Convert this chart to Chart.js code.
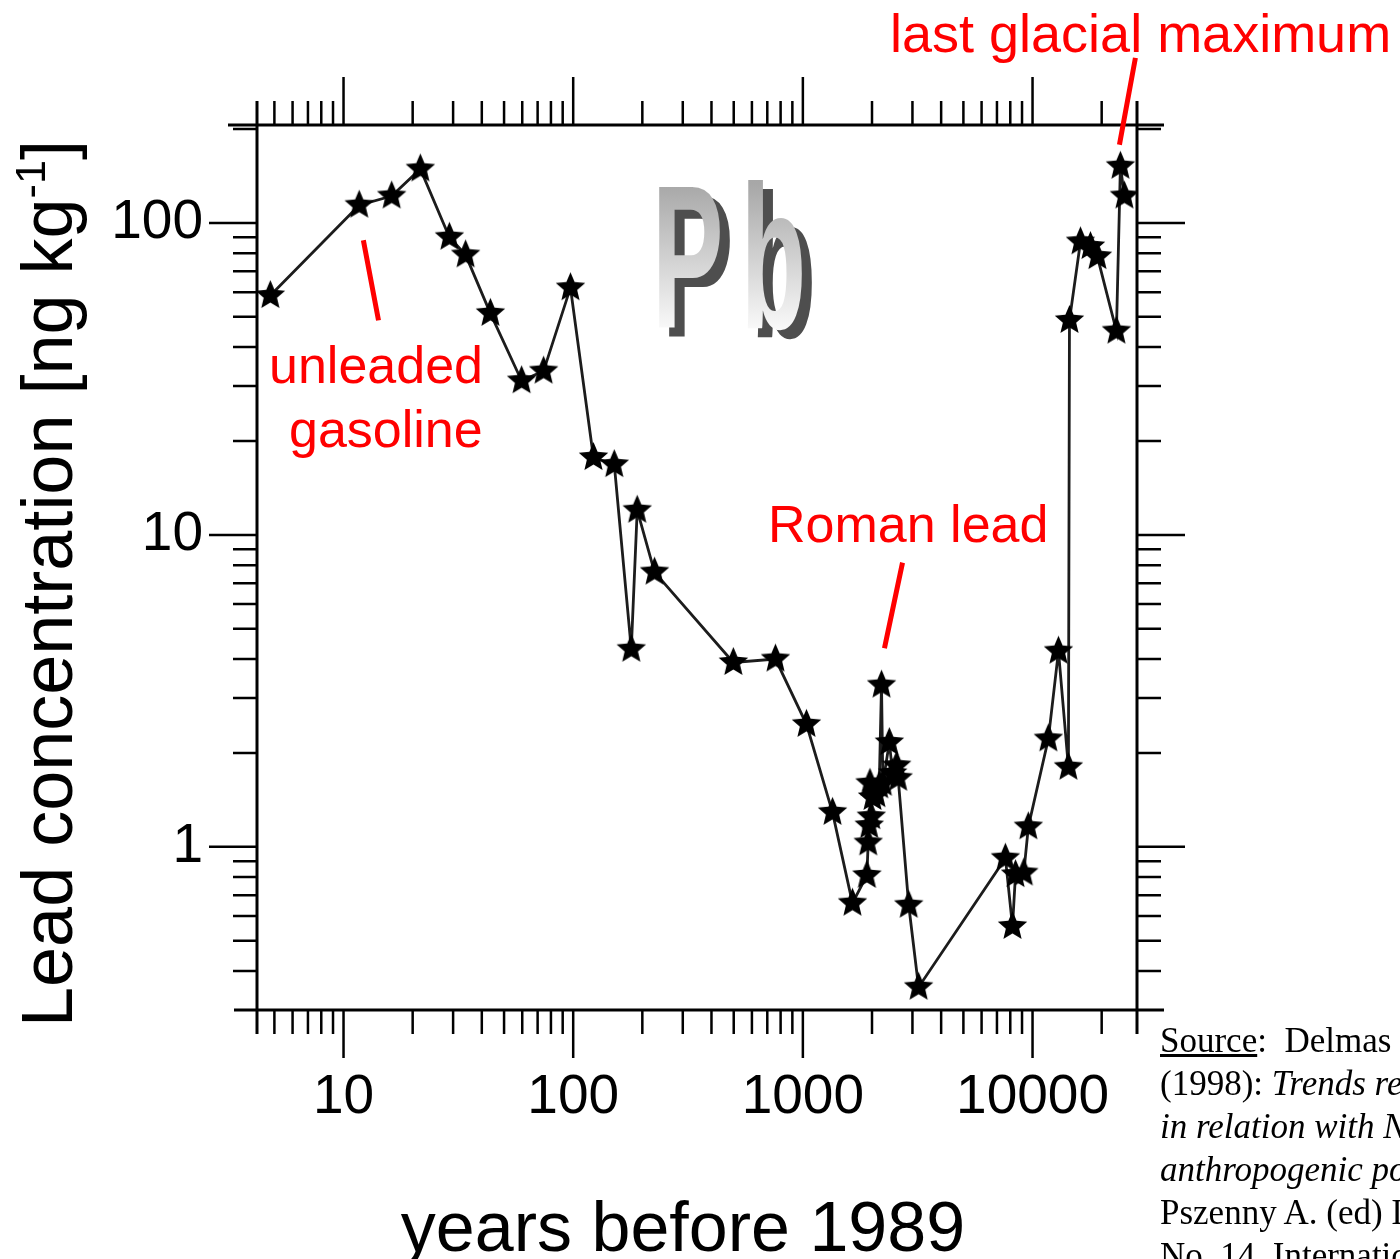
<!DOCTYPE html>
<html>
<head>
<meta charset="utf-8">
<title>Pb - lead concentration</title>
<script src="https://cdn.jsdelivr.net/npm/chart.js@4.4.1/dist/chart.umd.min.js"></script>
<style>
  html, body { margin: 0; padding: 0; background: #fff; }
  #wrap { position: relative; width: 1400px; height: 1259px; overflow: hidden;
          font-family: "Liberation Sans", Arial, sans-serif; color: #000; }
  #chart { position: absolute; left: 0; top: 0; }
  .note { position: absolute; color: #ff0000; line-height: 1; white-space: nowrap; }
  #ytitle { position: absolute; left: 11px; top: 1027px; font-size: 72px; line-height: 1;
            white-space: nowrap; transform-origin: 0 0; transform: rotate(-90deg); }
  #ytitle sup { font-size: 0.6em; line-height: 0; vertical-align: 0.62em; }
  #xtitle { position: absolute; left: 0; width: 1366px; top: 1192px; font-size: 70px;
            line-height: 1; text-align: center; white-space: nowrap; }
  #pb { position: absolute; left: 652px; top: 155px; font-weight: bold; font-size: 204px;
        line-height: 1; letter-spacing: 33px; white-space: nowrap;
        transform-origin: 0 0; transform: scaleX(0.525); }
  #pb span { position: absolute; left: 0; top: 0; }
  #pb .shadow { left: 19px; top: 9px; color: #4e4e4e; }
  #pb .face { background: linear-gradient(180deg, #a2a2a2 0px, #a8a8a8 30px, #ffffff 185px);
              -webkit-background-clip: text; background-clip: text; color: transparent; }
  #source { position: absolute; left: 1160px; top: 1019px; width: 600px;
            font-family: "Liberation Serif", "Times New Roman", serif; font-size: 35px;
            line-height: 43px; white-space: nowrap; }
</style>
</head>
<body>
<div id="wrap">
  <canvas id="chart" width="1400" height="1259"></canvas>

  <div id="pb"><span class="shadow">Pb</span><span class="face">Pb</span></div>

  <div class="note" style="left:890px; top:6px; font-size:54px;">last glacial maximum</div>
  <div class="note" style="left:269px; top:339px; font-size:52px;">unleaded</div>
  <div class="note" style="left:289px; top:403px; font-size:52px;">gasoline</div>
  <div class="note" style="left:768px; top:498px; font-size:52px;">Roman lead</div>

  <div id="ytitle">Lead concentration [ng kg<sup>-1</sup>]</div>
  <div id="xtitle">years before 1989</div>

  <div id="source">
    <u>Source</u>:&nbsp; Delmas R.J.<br>
    (1998): <i>Trends recorded</i><br>
    <i>in relation with Northern</i><br>
    <i>anthropogenic pollution</i><br>
    Pszenny A. (ed) IGAC<br>
    No. 14. International
  </div>
</div>

<script>
// ice-core record: age (years before 1989) and Pb concentration (ng/kg)
const ages = [
  4.8, 11.7, 16.2, 21.6, 28.9, 34, 43.6, 59.6, 74.3, 97.3,
  122.5, 151, 179, 190, 226, 498, 760, 1037, 1346, 1644,
  1900, 1925, 1945, 1960, 1985, 2010, 2090, 2150, 2200, 2230,
  2380, 2460, 2560, 2600, 2890, 3190,
  7620, 8180, 8430, 9160, 9590, 11720, 12970, 14330, 14480,
  16170, 17870, 19160, 23190, 24130, 25120
];
const lead = [
  58.5, 114, 122, 149, 90, 79, 51.3, 31.2, 33.5, 62,
  17.7, 16.8, 4.3, 12.0, 7.6, 3.9, 4.0, 2.47, 1.29, 0.66,
  0.81, 1.03, 1.17, 1.6, 1.25, 1.44, 1.47, 1.57, 3.3, 1.6,
  2.16, 1.72, 1.82, 1.66, 0.65, 0.355,
  0.92, 0.556, 0.815, 0.825, 1.16, 2.22, 4.24, 1.8, 48.7,
  87, 84, 78, 45, 152, 122
];

const xTickValues = [10, 100, 1000, 10000];
const yTickValues = [1, 10, 100];

const xMin = 4.2, xMax = 28500;
const yMin = 0.314, yMax = 206;

// red pointer lines, endpoints in data units
const callouts = [
  { from: [12.2, 88], to: [14.2, 48.7] },
  { from: [2716, 8.15], to: [2266, 4.33] },
  { from: [28050, 338], to: [23900, 178] }
];

// filled five-pointed star used as the point marker
function makeStar(R, r) {
  const size = Math.ceil(R * 2 + 2);
  const c = document.createElement('canvas');
  c.width = c.height = size;
  const g = c.getContext('2d');
  const cx = size / 2, cy = size / 2;
  g.beginPath();
  for (let i = 0; i < 10; i++) {
    const ang = -Math.PI / 2 + i * Math.PI / 5;
    const rad = i % 2 ? r : R;
    g.lineTo(cx + rad * Math.cos(ang), cy + rad * Math.sin(ang));
  }
  g.closePath();
  g.fillStyle = '#000';
  g.fill();
  return c;
}

// 1..9 x 10^n between min and max
function logTicks(min, max) {
  const out = [];
  for (let e = Math.floor(Math.log10(min)); e <= Math.ceil(Math.log10(max)); e++) {
    for (let m = 1; m <= 9; m++) {
      const v = m * Math.pow(10, e);
      if (v >= min * 0.999 && v <= max * 1.001) out.push({ v, major: m === 1 });
    }
  }
  return out;
}

// box frame with outward ticks on all four sides, then the red pointers
const framePlugin = {
  id: 'frame',
  afterDatasetsDraw(chart) {
    const { ctx, chartArea: a } = chart;
    const sx = chart.scales.x, sy = chart.scales.y;
    const minor = 24, major = 48;
    ctx.save();
    ctx.strokeStyle = '#000';
    ctx.lineWidth = 3;
    ctx.beginPath();
    ctx.moveTo(a.left - 29, a.top); ctx.lineTo(a.right + 27, a.top);
    ctx.moveTo(a.left - 23, a.bottom); ctx.lineTo(a.right + 27, a.bottom);
    ctx.moveTo(a.left, a.top - minor); ctx.lineTo(a.left, a.bottom + minor);
    ctx.moveTo(a.right, a.top - minor); ctx.lineTo(a.right, a.bottom + minor);
    ctx.stroke();

    ctx.lineWidth = 2.5;
    ctx.beginPath();
    for (const t of logTicks(xMin, xMax)) {
      const px = sx.getPixelForValue(t.v);
      const len = t.major ? major : minor;
      ctx.moveTo(px, a.top); ctx.lineTo(px, a.top - len);
      ctx.moveTo(px, a.bottom); ctx.lineTo(px, a.bottom + len);
    }
    for (const t of logTicks(yMin, yMax)) {
      const py = sy.getPixelForValue(t.v);
      const len = t.major ? major : minor;
      ctx.moveTo(a.left, py); ctx.lineTo(a.left - len, py);
      ctx.moveTo(a.right, py); ctx.lineTo(a.right + len, py);
    }
    ctx.stroke();

    ctx.strokeStyle = '#ff0000';
    ctx.lineWidth = 5;
    ctx.beginPath();
    for (const c of callouts) {
      ctx.moveTo(sx.getPixelForValue(c.from[0]), sy.getPixelForValue(c.from[1]));
      ctx.lineTo(sx.getPixelForValue(c.to[0]), sy.getPixelForValue(c.to[1]));
    }
    ctx.stroke();
    ctx.restore();
  }
};

const tickFont = { family: '"Liberation Sans", Arial, sans-serif', size: 55 };

new Chart(document.getElementById('chart'), {
  type: 'line',
  data: {
    datasets: [{
      data: ages.map((a, i) => ({ x: a, y: lead[i] })),
      borderColor: '#1c1c1c',
      borderWidth: 2.8,
      pointStyle: makeStar(15.5, 7),
      pointRadius: 15,
      tension: 0,
      clip: 0
    }]
  },
  options: {
    responsive: false,
    animation: false,
    events: [],
    layout: { padding: { top: 125, right: 263, left: 0, bottom: 0 } },
    plugins: { legend: { display: false }, tooltip: { enabled: false } },
    scales: {
      x: {
        type: 'logarithmic',
        position: 'bottom',
        min: xMin,
        max: xMax,
        afterBuildTicks: s => { s.ticks = xTickValues.map(v => ({ value: v })); },
        afterFit: s => { s.height = 249; },
        grid: { display: false },
        border: { display: false },
        ticks: { font: tickFont, color: '#000', padding: 47, maxRotation: 0, autoSkip: false,
                 callback: v => String(v) }
      },
      y: {
        type: 'logarithmic',
        position: 'left',
        min: yMin,
        max: yMax,
        afterBuildTicks: s => { s.ticks = yTickValues.map(v => ({ value: v })); },
        afterFit: s => { s.width = 257; },
        grid: { display: false },
        border: { display: false },
        ticks: { font: tickFont, color: '#000', padding: 46, autoSkip: false,
                 callback: v => String(v) }
      }
    }
  },
  plugins: [framePlugin]
});
</script>
</body>
</html>
